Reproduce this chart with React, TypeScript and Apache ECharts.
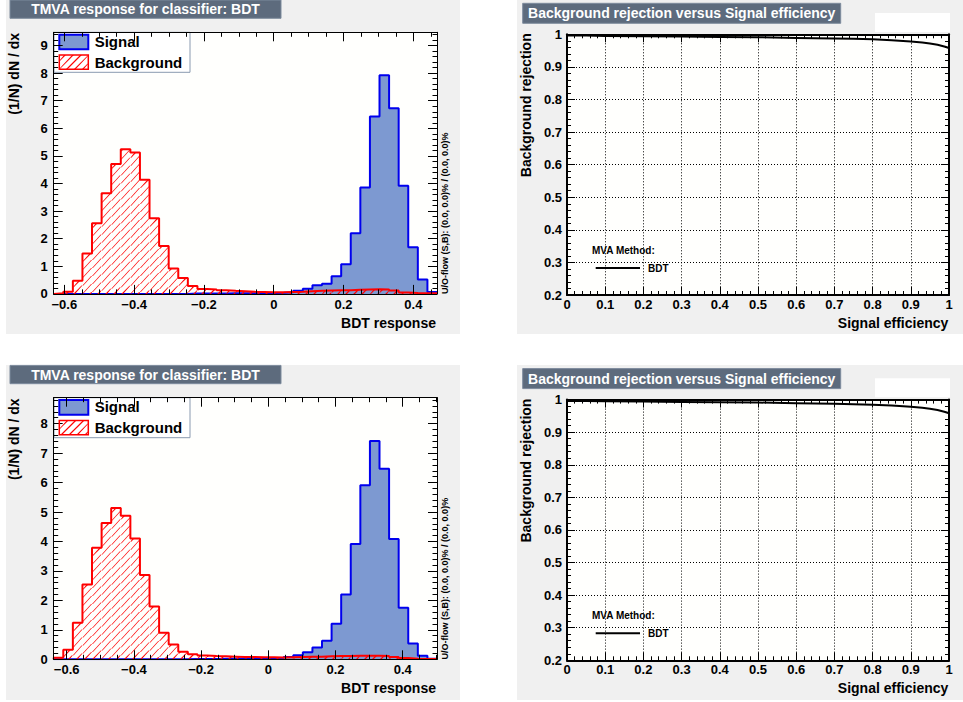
import React, { useEffect, useRef } from 'react';
import * as echarts from 'echarts';

const FONT = '"Liberation Sans", Arial, Helvetica, sans-serif';

// ---------- histogram binning ----------
const NBINS = 40;
const TOP_XMIN = -0.6305;
const TOP_XMAX = 0.4678;
const TOP_YMAX = 9.48;
const BOT_XMIN = -0.6386;
const BOT_XMAX = 0.502;
const BOT_YMAX = 8.88;

// ---------- data (1/N dN/dx per bin) ----------
const topSignal = [
  0, 0, 0, 0, 0, 0, 0, 0, 0, 0,
  0, 0, 0, 0, 0.01, 0.01, 0.01, 0.01, 0.02, 0.02,
  0.02, 0.03, 0.03, 0.04, 0.06, 0.11, 0.19, 0.31, 0.37, 0.64,
  1.07, 2.2, 3.86, 6.43, 7.92, 6.73, 3.92, 1.69, 0.52, 0.07,
];
const topBackground = [
  0.02, 0.08, 0.48, 1.46, 2.56, 3.65, 4.71, 5.24, 5.12, 4.14,
  2.74, 1.74, 0.92, 0.58, 0.29, 0.18, 0.16, 0.13, 0.11, 0.1,
  0.08, 0.07, 0.06, 0.06, 0.07, 0.08, 0.1, 0.11, 0.12, 0.13,
  0.13, 0.15, 0.16, 0.17, 0.16, 0.12, 0.05, 0.03, 0.02, 0.02,
];
const botSignal = [
  0, 0, 0, 0, 0, 0, 0, 0, 0, 0,
  0, 0, 0, 0, 0.01, 0.01, 0.01, 0.02, 0.02, 0.02,
  0.02, 0.03, 0.04, 0.05, 0.08, 0.14, 0.24, 0.4, 0.63, 1.21,
  2.2, 3.91, 5.91, 7.41, 6.47, 4.08, 1.75, 0.54, 0.12, 0.02,
];
const botBackground = [
  0.05, 0.32, 1.24, 2.54, 3.79, 4.63, 5.14, 4.87, 4.1, 2.86,
  1.79, 0.9, 0.5, 0.26, 0.17, 0.13, 0.11, 0.1, 0.09, 0.08,
  0.08, 0.07, 0.07, 0.06, 0.07, 0.08, 0.09, 0.09, 0.1, 0.11,
  0.11, 0.12, 0.12, 0.12, 0.11, 0.08, 0.04, 0.02, 0.01, 0.01,
];

// ---------- ROC curves ----------
const rocEffS = [0, 0.05, 0.1, 0.2, 0.3, 0.4, 0.5, 0.6, 0.7, 0.75, 0.8, 0.85, 0.9, 0.93, 0.95, 0.97, 0.98, 0.99, 1.0];
const rocRejTop = [0.996, 0.996, 0.995, 0.994, 0.993, 0.992, 0.991, 0.989, 0.987, 0.986, 0.985, 0.982, 0.978, 0.975, 0.972, 0.968, 0.965, 0.962, 0.958];
const rocRejBot = [0.996, 0.996, 0.995, 0.994, 0.993, 0.992, 0.991, 0.989, 0.987, 0.986, 0.984, 0.982, 0.978, 0.975, 0.972, 0.968, 0.965, 0.962, 0.958];

// ---------- texts ----------
const histTitle = 'TMVA response for classifier: BDT';
const rocTitle = 'Background rejection versus Signal efficiency';
const histXTitle = 'BDT response';
const histYTitle = '(1/N) dN / dx';
const rocXTitle = 'Signal efficiency';
const rocYTitle = 'Background rejection';
const overflowText = 'U/O-flow (S,B): (0.0, 0.0)% / (0.0, 0.0)%';
const legendSignal = 'Signal';
const legendBackground = 'Background';
const rocLegendHeader = 'MVA Method:';
const rocLegendEntry = 'BDT';

const HATCH = 8;
const HATCH_HALF = 0.9;
const HATCH_COLOR = '#ff0000';

function edges(xmin: number, xmax: number) {
  const w = (xmax - xmin) / NBINS;
  const e: number[] = [];
  for (let i = 0; i <= NBINS; i++) e.push(xmin + i * w);
  return e;
}

function outline(e: number[], vals: number[]) {
  const pts: number[][] = [[e[0], 0]];
  vals.forEach((v, i) => {
    pts.push([e[i], v]);
    pts.push([e[i + 1], v]);
  });
  pts.push([e[NBINS], 0]);
  return pts;
}

// thin filled parallelograms along "/" diagonals, clipped to a box
function hatchPolys(L: number, T: number, R: number, B: number, z: number) {
  const out: any[] = [];
  const cStart = Math.ceil((L + T) / HATCH) * HATCH;
  for (let c = cStart; c <= R + B; c += HATCH) {
    const xa = Math.max(L, c - B);
    const xb = Math.min(R, c - T);
    if (xb - xa > 0.05) {
      const ya = c - xa;
      const yb = c - xb;
      const l1 = Math.max(L, xa - HATCH_HALF);
      const r1 = Math.min(R, xa + HATCH_HALF);
      const l2 = Math.max(L, xb - HATCH_HALF);
      const r2 = Math.min(R, xb + HATCH_HALF);
      out.push({
        type: 'polygon',
        z,
        shape: { points: [[l1, ya], [r1, ya], [r2, yb], [l2, yb]] },
        style: { fill: HATCH_COLOR, stroke: 'none' },
      });
    }
  }
  return out;
}

function fmtX(v: number) {
  const r = Math.round(v / 0.2) * 0.2;
  if (Math.abs(v - r) > 1e-6) return '';
  if (Math.abs(r) < 1e-9) return '0';
  const s = Math.abs(r).toFixed(1);
  return r < 0 ? '\u2212' + s : s;
}
function fmtY(v: number) {
  if (Math.abs(v - Math.round(v)) > 1e-6) return '';
  return String(Math.round(v));
}
function fmtRoc(v: number) {
  if (Math.abs(v) < 1e-9) return '0';
  if (Math.abs(v - 1) < 1e-9) return '1';
  return v.toFixed(1);
}

const labelStyle = { color: '#000', fontFamily: FONT, fontWeight: 'bold' as const, fontSize: 13 };

export default function App() {
  const ref = useRef<HTMLDivElement>(null);

  useEffect(() => {
    if (!ref.current) return;
    const chart = echarts.init(ref.current, undefined, { renderer: 'svg' });

    const grids: any[] = [];
    const xAxes: any[] = [];
    const yAxes: any[] = [];
    const series: any[] = [];
    const graphics: any[] = [];

    const addHist = (
      top: number,
      xmin: number,
      xmax: number,
      ymax: number,
      sig: number[],
      bkg: number[]
    ) => {
      const g = grids.length;
      grids.push({ left: 53.7, top, width: 383.3, height: 261.6, show: true, backgroundColor: '#fffffd', borderWidth: 0, outerBoundsMode: 'none' });
      const xi = xAxes.length;
      const yi = yAxes.length;
      const xBase = {
        gridIndex: g, type: 'value', min: xmin, max: xmax, splitNumber: 5, z: 6,
        axisLine: { show: true, onZero: false, lineStyle: { color: '#000', width: 1 } },
        axisTick: { show: true, inside: true, length: 9, lineStyle: { color: '#000', width: 1 } },
        minorTick: { show: true, splitNumber: 4, length: 4.5, lineStyle: { color: '#000', width: 1 } },
        splitLine: { show: false },
      };
      xAxes.push({ ...xBase, position: 'bottom', axisLabel: { ...labelStyle, margin: 4, formatter: fmtX } });
      xAxes.push({ ...xBase, position: 'top', axisLabel: { show: false } });
      const yBase = {
        gridIndex: g, type: 'value', min: 0, max: ymax, interval: 1, z: 6,
        axisLine: { show: true, onZero: false, lineStyle: { color: '#000', width: 1 } },
        axisTick: { show: true, inside: true, length: 9, lineStyle: { color: '#000', width: 1 } },
        minorTick: { show: true, splitNumber: 5, length: 4.5, lineStyle: { color: '#000', width: 1 } },
        splitLine: { show: false },
      };
      yAxes.push({ ...yBase, position: 'left', axisLabel: { ...labelStyle, margin: 6, formatter: fmtY } });
      yAxes.push({ ...yBase, position: 'right', axisLabel: { show: false } });

      const e = edges(xmin, xmax);
      series.push({
        type: 'line', xAxisIndex: xi, yAxisIndex: yi, data: outline(e, sig),
        symbol: 'none', showSymbol: false, silent: true, z: 2, clip: true,
        lineStyle: { color: '#0000ee', width: 2 },
        areaStyle: { color: '#7d99d1', opacity: 1 },
      });
      series.push({
        type: 'custom', xAxisIndex: xi, yAxisIndex: yi, z: 3, silent: true, clip: true,
        itemStyle: { color: HATCH_COLOR },
        data: bkg.map((v, i) => [e[i], e[i + 1], v]),
        encode: { x: [0, 1], y: 2 },
        renderItem: (params: any, api: any) => {
          const lo = api.value(0);
          const hi = api.value(1);
          const v = api.value(2);
          if (!(v > 0)) return { type: 'group', children: [] };
          const p0 = api.coord([lo, v]);
          const p1 = api.coord([hi, 0]);
          return { type: 'group', children: hatchPolys(p0[0], p0[1], p1[0], p1[1], 3) };
        },
      });
      series.push({
        type: 'line', xAxisIndex: xi, yAxisIndex: yi, data: outline(e, bkg),
        symbol: 'none', showSymbol: false, silent: true, z: 4, clip: true,
        lineStyle: { color: '#ff0000', width: 2 },
      });

      // legend
      const ly = top - 32.3;
      graphics.push({ type: 'rect', z: 5, shape: { x: 54, y: 32.3 + ly, width: 136, height: 40 }, style: { fill: '#ffffff', stroke: '#8a9ab0', lineWidth: 1 } });
      graphics.push({ type: 'rect', z: 6, shape: { x: 59.3, y: 34.7 + ly, width: 29, height: 14.6 }, style: { fill: '#7d99d1', stroke: '#0000ee', lineWidth: 2 } });
      hatchPolys(59.3, 55 + ly, 88.3, 69.3 + ly, 6).forEach((p) => graphics.push(p));
      graphics.push({ type: 'rect', z: 7, shape: { x: 59.3, y: 55 + ly, width: 29, height: 14.3 }, style: { fill: 'none', stroke: '#ff0000', lineWidth: 1.5 } });
      graphics.push({ type: 'text', z: 6, x: 94.7, y: 41.5 + ly, style: { text: legendSignal, fill: '#000', font: `bold 15px ${FONT}`, align: 'left', verticalAlign: 'middle' } });
      graphics.push({ type: 'text', z: 6, x: 94.7, y: 62 + ly, style: { text: legendBackground, fill: '#000', font: `bold 15px ${FONT}`, align: 'left', verticalAlign: 'middle' } });

      // titles
      graphics.push({ type: 'text', z: 5, x: 436, y: 323 + ly, style: { text: histXTitle, fill: '#000', font: `bold 14px ${FONT}`, align: 'right', verticalAlign: 'middle' } });
      graphics.push({ type: 'text', z: 5, x: 13.5, y: 33 + ly, rotation: Math.PI / 2, style: { text: histYTitle, fill: '#000', font: `bold 14px ${FONT}`, align: 'right', verticalAlign: 'middle' } });
      graphics.push({ type: 'text', z: 5, x: 445, y: 294 + ly, rotation: Math.PI / 2, style: { text: overflowText, fill: '#000', font: `bold 9px ${FONT}`, align: 'left', verticalAlign: 'middle' } });
      // title box
      graphics.push({ type: 'rect', z: 5, shape: { x: 10, y: 0 + ly, width: 271, height: 18.3 }, style: { fill: '#5d6b7d', stroke: '#7d8b9d', lineWidth: 1 } });
      graphics.push({ type: 'text', z: 6, x: 145.5, y: 9.4 + ly, style: { text: histTitle, fill: '#ffffff', font: `bold 14px ${FONT}`, align: 'center', verticalAlign: 'middle' } });
    };

    const addRoc = (top: number, rej: number[]) => {
      const g = grids.length;
      grids.push({ left: 567, top, width: 382, height: 260.7, show: true, backgroundColor: '#fffffd', borderWidth: 0, outerBoundsMode: 'none' });
      const xi = xAxes.length;
      const yi = yAxes.length;
      const common = {
        gridIndex: g, type: 'value', interval: 0.1, z: 6,
        axisLine: { show: true, onZero: false, lineStyle: { color: '#000', width: 2 } },
        axisTick: { show: true, inside: true, length: 8, lineStyle: { color: '#000', width: 1 } },
        minorTick: { show: true, splitNumber: 5, length: 4, lineStyle: { color: '#000', width: 1 } },
      };
      const grid = { show: true, lineStyle: { color: '#000', width: 1, type: [1, 2] } };
      xAxes.push({ ...common, min: 0, max: 1, position: 'bottom', splitLine: grid, axisLabel: { ...labelStyle, margin: 3, formatter: fmtRoc } });
      xAxes.push({ ...common, min: 0, max: 1, position: 'top', splitLine: { show: false }, axisLabel: { show: false } });
      yAxes.push({ ...common, min: 0.2, max: 1, position: 'left', splitLine: grid, axisLabel: { ...labelStyle, margin: 5, formatter: fmtRoc } });
      yAxes.push({ ...common, min: 0.2, max: 1, position: 'right', splitLine: { show: false }, axisLabel: { show: false } });
      series.push({
        type: 'line', xAxisIndex: xi, yAxisIndex: yi,
        data: rocEffS.map((x, i) => [x, rej[i]]),
        symbol: 'none', showSymbol: false, silent: true, z: 4, clip: true,
        lineStyle: { color: '#000', width: 2 },
      });
      const ly = top - 34.3;
      graphics.push({ type: 'rect', z: 5, shape: { x: 522.7, y: 3.3 + ly, width: 318, height: 20 }, style: { fill: '#5d6b7d', stroke: '#7d8b9d', lineWidth: 1 } });
      graphics.push({ type: 'text', z: 6, x: 681.7, y: 13.4 + ly, style: { text: rocTitle, fill: '#ffffff', font: `bold 14px ${FONT}`, align: 'center', verticalAlign: 'middle' } });
      graphics.push({ type: 'rect', z: 5, shape: { x: 875, y: 13 + ly, width: 75, height: 19 }, style: { fill: '#ffffff' } });
      graphics.push({ type: 'text', z: 5, x: 948.3, y: 323 + ly, style: { text: rocXTitle, fill: '#000', font: `bold 14px ${FONT}`, align: 'right', verticalAlign: 'middle' } });
      graphics.push({ type: 'text', z: 5, x: 525.7, y: 33.3 + ly, rotation: Math.PI / 2, style: { text: rocYTitle, fill: '#000', font: `bold 14px ${FONT}`, align: 'right', verticalAlign: 'middle' } });
      graphics.push({ type: 'text', z: 7, x: 592, y: 250 + ly, style: { text: rocLegendHeader, fill: '#000', font: `bold 10px ${FONT}`, align: 'left', verticalAlign: 'middle' } });
      graphics.push({ type: 'line', z: 7, shape: { x1: 595.7, y1: 268 + ly, x2: 640, y2: 268 + ly }, style: { stroke: '#000', lineWidth: 2 } });
      graphics.push({ type: 'text', z: 7, x: 648, y: 268.5 + ly, style: { text: rocLegendEntry, fill: '#000', font: `bold 10px ${FONT}`, align: 'left', verticalAlign: 'middle' } });
    };

    // pad backgrounds
    graphics.push({ type: 'rect', z: -10, shape: { x: 6, y: 0, width: 454, height: 334 }, style: { fill: '#f0f0f0' } });
    graphics.push({ type: 'rect', z: -10, shape: { x: 6, y: 365, width: 454, height: 335 }, style: { fill: '#f0f0f0' } });
    graphics.push({ type: 'rect', z: -10, shape: { x: 517, y: 0, width: 446, height: 334 }, style: { fill: '#f0f0f0' } });
    graphics.push({ type: 'rect', z: -10, shape: { x: 517, y: 365, width: 446, height: 335 }, style: { fill: '#f0f0f0' } });

    addHist(32.3, TOP_XMIN, TOP_XMAX, TOP_YMAX, topSignal, topBackground);
    addHist(397.7, BOT_XMIN, BOT_XMAX, BOT_YMAX, botSignal, botBackground);
    addRoc(34.3, rocRejTop);
    addRoc(399.6, rocRejBot);

    chart.setOption({
      animation: false,
      backgroundColor: '#ffffff',
      grid: grids,
      xAxis: xAxes,
      yAxis: yAxes,
      series,
      graphic: { elements: graphics },
    });

    return () => chart.dispose();
  }, []);

  return (
    <div
      ref={ref}
      style={{ position: 'absolute', left: 0, top: 0, width: 963, height: 702 }}
    />
  );
}
